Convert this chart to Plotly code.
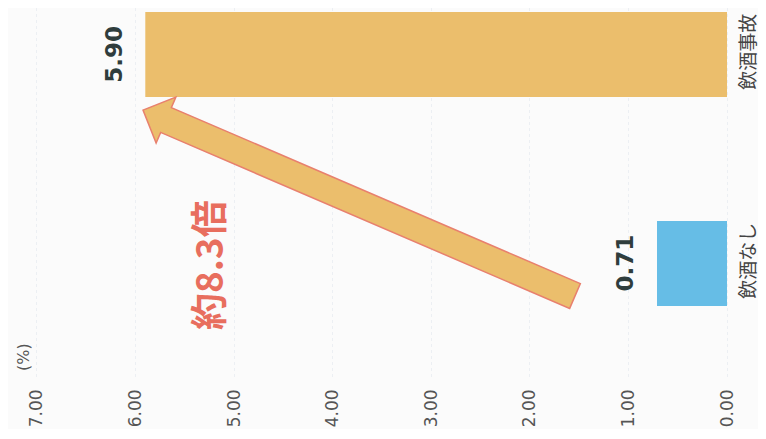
import plotly.graph_objects as go
import math

# ---- data ----
categories = ["飲酒なし", "飲酒事故"]
values = [0.71, 5.90]
bar_colors = ["#66BDE6", "#EBBE6C"]
tick_values = [0, 1, 2, 3, 4, 5, 6, 7]
tick_labels = ["0.00", "1.00", "2.00", "3.00", "4.00", "5.00", "6.00", "7.00"]
unit_label = "(%)"
ratio_label = "約8.3倍"

OFF = 8  # page body margin
W, H = 750, 421
ML, MR, MT, MB = 17, 23, 0, 49
XR = [7.12, -0.081]
YR = [-0.557, 1.2225]

fig = go.Figure()
fig.add_trace(go.Bar(
    y=categories, x=values, orientation="h",
    marker=dict(color=bar_colors, line=dict(width=0)),
    width=0.407, hoverinfo="skip",
))

# value labels
for c, v in zip(categories, values):
    fig.add_annotation(
        x=v, y=c, xref="x", yref="y", text=f"{v:.2f}", showarrow=False,
        textangle=-90, xanchor="right", yanchor="middle", xshift=-17,
        font=dict(family="DejaVu Sans", size=23, color="#2f3d3d", weight=600),
    )

# block arrow (page pixel geometry -> paper coords)
pw, ph = W - ML - MR, H - MT - MB
def to_paper(px, py):
    fx, fy = px - OFF, py - OFF
    return ((fx - ML) / pw, 1 - (fy - MT) / ph)

tail = (575, 296)
base = (166, 120)
ux, uy = base[0] - tail[0], base[1] - tail[1]
L = math.hypot(ux, uy)
ux, uy = ux / L, uy / L
nx, ny = -uy, ux
w, h, hl = 13.5, 25, 25
tip = (base[0] + hl * ux, base[1] + hl * uy)
pts = [
    (tail[0] + w * nx, tail[1] + w * ny),
    (base[0] + w * nx, base[1] + w * ny),
    (base[0] + h * nx, base[1] + h * ny),
    tip,
    (base[0] - h * nx, base[1] - h * ny),
    (base[0] - w * nx, base[1] - w * ny),
    (tail[0] - w * nx, tail[1] - w * ny),
]
path = "M " + " L ".join(f"{to_paper(*p)[0]:.5f},{to_paper(*p)[1]:.5f}" for p in pts) + " Z"
fig.add_shape(type="path", path=path, xref="paper", yref="paper",
              fillcolor="#EBBE6C", line=dict(color="#E8806E", width=1.5), layer="above")

# ratio text
rx, ry = to_paper(207, 265)
fig.add_annotation(x=rx, y=ry, xref="paper", yref="paper", text=f"<b>{ratio_label}</b>",
                   showarrow=False, textangle=-90, xanchor="center", yanchor="middle",
                   font=dict(family="Noto Sans CJK JP", size=37, color="#E86E5E"))

# unit label
qx, qy = to_paper(23, 357)
fig.add_annotation(x=qx, y=qy, xref="paper", yref="paper", text=unit_label,
                   showarrow=False, textangle=-90, xanchor="center", yanchor="middle",
                   font=dict(family="DejaVu Sans", size=16, color="#555555"))

fig.update_layout(
    width=W, height=H,
    margin=dict(l=ML, r=MR, t=MT, b=MB, pad=0),
    paper_bgcolor="#FBFBFB", plot_bgcolor="#FBFBFB",
    showlegend=False,
    xaxis=dict(range=XR, tickvals=tick_values, ticktext=tick_labels, tickangle=-90,
               showgrid=True, gridcolor="#ECEFF3", griddash="dot", gridwidth=1,
               zeroline=False, showline=False, ticks="", automargin=False,
               ticklabelstandoff=5,
               tickfont=dict(family="DejaVu Sans", size=17, color="#555555")),
    yaxis=dict(range=YR, side="right", tickangle=-90, showgrid=False,
               zeroline=False, showline=False, ticks="", automargin=False,
               ticklabelstandoff=0,
               tickfont=dict(family="Noto Sans CJK JP", size=19, color="#444444")),
)

fig.write_html("out.html")
